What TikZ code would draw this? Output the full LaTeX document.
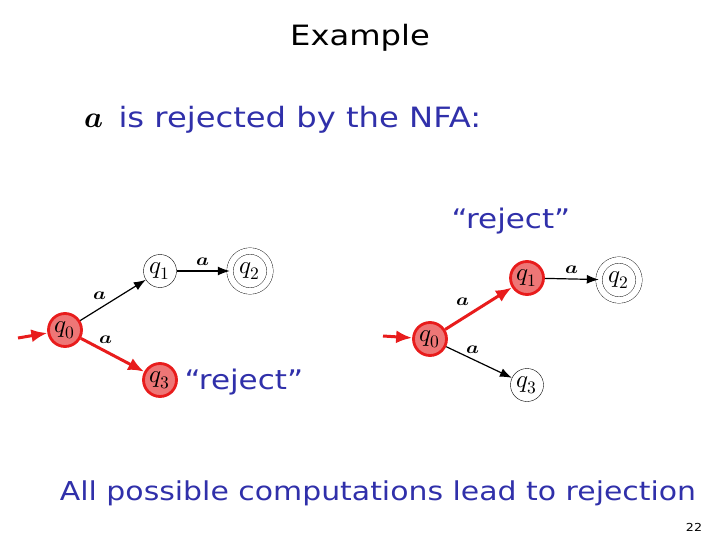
\documentclass[tikz,border=0pt]{standalone}
\usepackage{fontspec}
\usepackage{unicode-math}
\setmainfont[FakeStretch=1.15]{DejaVu Sans}
\usetikzlibrary{arrows.meta}

\definecolor{slideblue}{RGB}{48,48,170}
\definecolor{runred}{RGB}{232,28,28}
\definecolor{runfill}{RGB}{238,118,118}

\tikzset{
  state/.style={circle,draw,thin,inner sep=0pt,minimum size=33pt,
    font=\fontsize{25}{25}\selectfont},
  accept/.style={state,double,double distance=6pt,minimum size=40pt},
  active/.style={state,draw=runred,line width=2.8pt,fill=runfill},
  move/.style={-{Latex[length=12pt,width=9pt]},line width=1.2pt},
  hit/.style={-{Latex[length=16pt,width=13pt]},draw=runred,line width=3pt},
  sym/.style={font=\fontsize{17}{17}\selectfont,xscale=1.2},
  slide/.style={text=slideblue,font=\fontsize{27}{30}\selectfont}
}

\begin{document}
\begin{tikzpicture}[x=1pt,y=-1pt]
\useasboundingbox (0,0) rectangle (720,540);

\node[font=\fontsize{28}{30}\selectfont] (title) at (360,38) {Example};
\node[font=\fontsize{30}{30}\selectfont] (input) at (94,121) {$\symbfit{a}$};
\node[slide,anchor=west,font=\fontsize{28}{30}\selectfont] (claim) at (115,120)
  {is rejected by the NFA:};

% first run: q0 -> q3
\node[active] (L0) at (65,330) {$q_0$};
\node[state]  (L1) at (160,271) {$q_1$};
\node[accept] (L2) at (250,271) {$q_2$};
\node[active] (L3) at (160,380) {$q_3$};
\coordinate (Lin) at (18,338);

\draw[hit] (Lin) -- (L0);
\draw[move] (L0) -- node[sym,above left=-1pt,pos=.45] {$\symbfit{a}$} (L1);
\draw[move] (L1) -- node[sym,above=1pt] {$\symbfit{a}$} (L2);
\draw[hit] (L0) -- node[sym,above=3pt,pos=.4] {$\symbfit{a}$} (L3);
\node[slide,anchor=west] (Lrej) at (181,382) {``reject''};

% second run: q0 -> q1
\node[active] (R0) at (430,339) {$q_0$};
\node[active] (R1) at (527,278) {$q_1$};
\node[accept] (R2) at (619,280) {$q_2$};
\node[state]  (R3) at (527,385) {$q_3$};
\coordinate (Rin) at (383,336);

\draw[hit] (Rin) -- (R0);
\draw[hit] (R0) -- node[sym,above left=0pt,pos=.45] {$\symbfit{a}$} (R1);
\draw[move] (R1) -- node[sym,above=1pt] {$\symbfit{a}$} (R2);
\draw[move] (R0) -- node[sym,above=2pt,pos=.4] {$\symbfit{a}$} (R3);
\node[slide] (Rrej) at (511,221) {``reject''};

\node[slide,font=\fontsize{26}{30}\selectfont] (verdict) at (378,493)
  {All possible computations lead to rejection};
\node[font=\fontsize{11}{11}\selectfont] (page) at (694,527) {22};

\end{tikzpicture}
\end{document}
